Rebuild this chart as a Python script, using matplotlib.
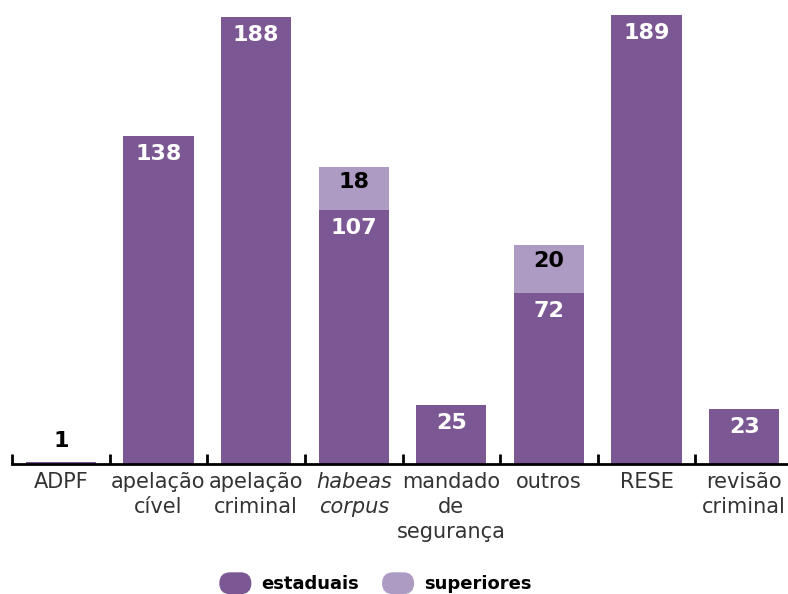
import matplotlib.pyplot as plt
import numpy as np
from matplotlib.legend_handler import HandlerPatch
from matplotlib.patches import FancyBboxPatch, Patch

plt.rcParams["font.family"] = ["DejaVu Sans"]

categories = ["ADPF", "apelação\ncível", "apelação\ncriminal", "habeas\ncorpus",
              "mandado\nde\nsegurança", "outros", "RESE", "revisão\ncriminal"]
estaduais = [1, 138, 188, 107, 25, 72, 189, 23]
superiores = [0, 0, 0, 18, 0, 20, 0, 0]

DARK = "#7b5894"
LIGHT = "#ae9bc4"


def pill_patch(legend, orig_handle, xdescent, ydescent, width, height, fontsize):
    # rounded "pill" marker for the legend entries
    return FancyBboxPatch((-xdescent, -ydescent - 2), width, height + 4,
                          boxstyle=f"round,pad=0,rounding_size={(height + 4) / 2}")


fig = plt.figure(figsize=(7.88, 5.94), dpi=100)
ax = fig.add_axes([12 / 788, 130 / 594, 781 / 788, 451.5 / 594])

x = np.arange(len(categories))
width = 0.72
ax.bar(x, estaduais, width=width, color=DARK)
ax.bar(x, superiores, width=width, bottom=estaduais, color=LIGHT)

for i in range(len(categories)):
    e = estaduais[i]
    s = superiores[i]
    if e < 5:
        ax.annotate(str(e), (x[i], e), xytext=(0, 15), textcoords="offset points",
                    ha="center", va="center", fontsize=16, fontweight="bold", color="black")
    else:
        ax.annotate(str(e), (x[i], e), xytext=(0, -13), textcoords="offset points",
                    ha="center", va="center", fontsize=16, fontweight="bold", color="white")
    if s > 0:
        ax.annotate(str(s), (x[i], e + s), xytext=(0, -11), textcoords="offset points",
                    ha="center", va="center", fontsize=16, fontweight="bold", color="black")

ax.set_xlim(-0.5, len(categories) - 0.5)
ax.set_ylim(0, 190)

for side in ["left", "right", "top"]:
    ax.spines[side].set_visible(False)
ax.spines["bottom"].set_linewidth(2)
ax.spines["bottom"].set_color("black")

ax.set_yticks([])
ax.set_xticks(x)
ax.set_xticklabels(categories, fontsize=15, color="#333333", linespacing=1.3)
ax.get_xticklabels()[3].set_style("italic")
ax.tick_params(axis="x", which="major", length=0, pad=6)
ax.set_xticks(np.arange(-0.5, len(categories) - 0.5, 1.0), minor=True)
ax.tick_params(axis="x", which="minor", direction="in", length=7, width=2, color="black")

handles = [Patch(color=DARK, label="estaduais"), Patch(color=LIGHT, label="superiores")]
leg = fig.legend(handles=handles, loc="center", bbox_to_anchor=(0.477, 0.016),
                 ncol=2, frameon=False, handlelength=1.7, handleheight=0.9,
                 handletextpad=0.6, columnspacing=1.3,
                 prop={"size": 13, "weight": "bold"},
                 handler_map={Patch: HandlerPatch(patch_func=pill_patch)})

fig.savefig("out.png", dpi=100)
